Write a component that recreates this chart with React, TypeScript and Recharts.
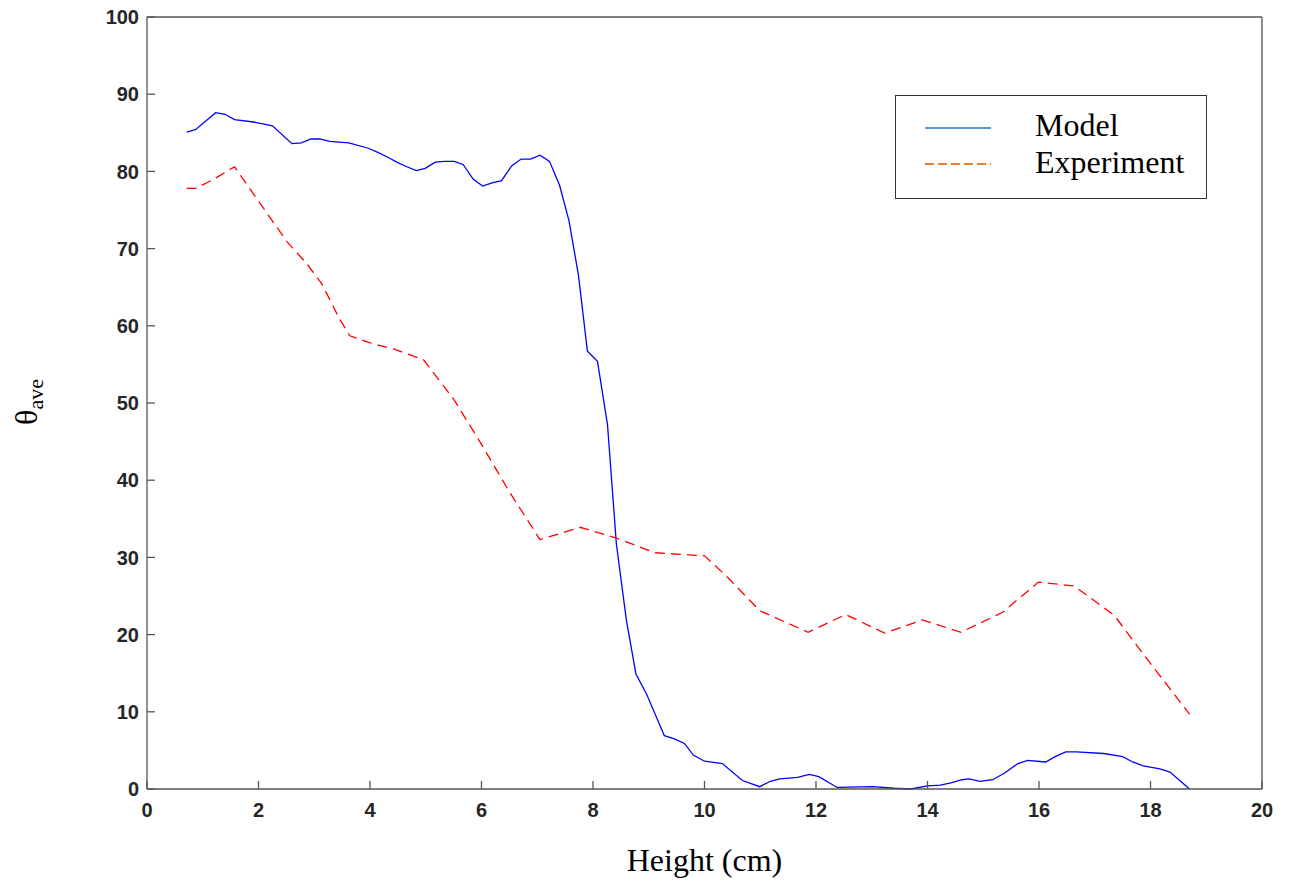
import { LineChart, Line, XAxis, YAxis, Label } from 'recharts';

// model curve (height in cm, theta_ave)
const modelHeight = [
  0.71, 0.87, 1.23, 1.4, 1.57, 1.91, 2.25, 2.6, 2.77, 2.94, 3.1, 3.28, 3.62, 3.97, 4.13, 4.33, 4.48,
  4.66, 4.83, 4.99, 5.17, 5.33, 5.51, 5.67, 5.85, 6.02, 6.19, 6.36, 6.54, 6.71, 6.88, 7.05, 7.22,
  7.4, 7.57, 7.74, 7.9, 8.08, 8.26, 8.42, 8.6, 8.77, 8.96, 9.28, 9.46, 9.64, 9.8, 10.0, 10.32,
  10.68, 10.99, 11.18, 11.35, 11.67, 11.88, 12.05, 12.38, 13.02, 13.4, 13.7, 14.0, 14.23, 14.42,
  14.62, 14.75, 14.94, 15.17, 15.39, 15.62, 15.8, 16.12, 16.29, 16.48, 16.67, 17.16, 17.5, 17.68,
  17.87, 18.17, 18.35, 18.7,
];
const modelTheta = [
  85.1, 85.4, 87.6, 87.4, 86.7, 86.4, 85.9, 83.6, 83.7, 84.2, 84.2, 83.9, 83.7, 83.0, 82.5, 81.8, 81.2,
  80.6, 80.1, 80.4, 81.2, 81.3, 81.3, 80.9, 79.0, 78.1, 78.5, 78.8, 80.7, 81.6, 81.6, 82.1, 81.3,
  78.2, 73.6, 66.5, 56.7, 55.4, 47.2, 31.7, 21.8, 14.9, 12.3, 6.9, 6.5, 5.9, 4.4, 3.6, 3.3,
  1.1, 0.3, 1.0, 1.3, 1.5, 1.9, 1.6, 0.2, 0.3, 0.1, 0.0, 0.4, 0.5, 0.8,
  1.2, 1.3, 1.0, 1.2, 2.1, 3.3, 3.7, 3.5, 4.2, 4.8, 4.8, 4.6, 4.2, 3.5,
  3.0, 2.6, 2.2, 0.0,
];

// experiment curve
const expHeight = [
  0.71, 0.88, 1.2, 1.57, 2.15, 2.51, 2.86, 3.13, 3.46, 3.64, 4.0, 4.42, 4.96, 5.5, 5.97, 6.5, 7.05,
  7.77, 8.42, 9.11, 9.79, 10.0, 10.39, 10.99, 11.86, 12.53, 13.23, 13.91, 14.6, 15.35, 15.99, 16.63,
  17.35, 17.91, 18.7,
];
const expTheta = [
  77.8, 77.8, 79.0, 80.6, 74.6, 70.9, 68.1, 65.5, 60.8, 58.7, 57.8, 57.0, 55.6, 50.5, 45.0, 38.5, 32.3,
  33.9, 32.5, 30.6, 30.3, 30.2, 27.6, 23.1, 20.3, 22.6, 20.2, 21.9, 20.3, 22.9, 26.8, 26.3,
  22.5, 17.1, 9.7,
];

const xTicks = [0, 2, 4, 6, 8, 10, 12, 14, 16, 18, 20];
const yTicks = [0, 10, 20, 30, 40, 50, 60, 70, 80, 90, 100];

const modelData = modelHeight.map((h, i) => ({ h, theta: modelTheta[i] }));
const expData = expHeight.map((h, i) => ({ h, theta: expTheta[i] }));

const axisColor = '#555';
const tickStyle = { fontSize: 20, fontWeight: 700, fill: '#262626', fontFamily: '"Liberation Sans", Arial, sans-serif' };
const serif = '"Liberation Serif", "Times New Roman", serif';

function ThetaLabel() {
  return (
    <text transform="translate(37, 402) rotate(-90)" textAnchor="middle" fontFamily={serif} fill="#000">
      <tspan fontSize={32}>θ</tspan>
      <tspan fontSize={22} dy={6}>ave</tspan>
    </text>
  );
}

export default function App() {
  return (
    <div style={{ position: 'absolute', left: 0, top: 0, width: 1294, height: 886, background: '#fff' }}>
      <LineChart width={1294} height={886} margin={{ top: 0, right: 0, left: 0, bottom: 0 }}>
        <XAxis
          xAxisId="bottom"
          dataKey="h"
          type="number"
          domain={[0, 20]}
          ticks={xTicks}
          height={97}
          stroke={axisColor}
          strokeWidth={1.3}
          tickSize={-8}
          tickMargin={22}
          tick={tickStyle}
        >
          <Label
            value="Height (cm)"
            position="insideBottom"
            offset={15}
            style={{ fontSize: 32, fontFamily: serif, fill: '#000' }}
          />
        </XAxis>
        <XAxis
          xAxisId="top"
          orientation="top"
          dataKey="h"
          type="number"
          domain={[0, 20]}
          ticks={xTicks}
          height={17}
          stroke={axisColor}
          strokeWidth={1.3}
          tickSize={-8}
          tick={false}
        />
        <YAxis
          yAxisId="left"
          type="number"
          domain={[0, 100]}
          ticks={yTicks}
          width={147}
          stroke={axisColor}
          strokeWidth={1.3}
          tickSize={-8}
          tickMargin={16}
          tick={tickStyle}
          label={<ThetaLabel />}
        />
        <YAxis
          yAxisId="right"
          orientation="right"
          type="number"
          domain={[0, 100]}
          ticks={yTicks}
          width={32}
          stroke={axisColor}
          strokeWidth={1.3}
          tickSize={-8}
          tick={false}
        />
        <Line
          xAxisId="bottom"
          yAxisId="left"
          data={modelData}
          dataKey="theta"
          type="linear"
          stroke="#0000ff"
          strokeWidth={1.3}
          dot={false}
          isAnimationActive={false}
        />
        <Line
          xAxisId="top"
          yAxisId="right"
          data={expData}
          dataKey="theta"
          type="linear"
          stroke="#ff0000"
          strokeWidth={1.3}
          strokeDasharray="10 6"
          dot={false}
          isAnimationActive={false}
        />
      </LineChart>

      {/* legend box as in the original figure */}
      <div
        style={{
          position: 'absolute',
          left: 895,
          top: 95,
          width: 310,
          height: 102,
          border: '1.5px solid #333',
          background: '#fff',
          fontFamily: serif,
          fontSize: 32,
          color: '#000',
        }}
      >
        <svg width={80} height={100} style={{ position: 'absolute', left: 25, top: 0 }}>
          <line x1={4} x2={70} y1={32} y2={32} stroke="#5b9bd5" strokeWidth={2} />
          <line x1={4} x2={70} y1={68} y2={68} stroke="#ed7d31" strokeWidth={2} strokeDasharray="9 4" />
        </svg>
        <div style={{ position: 'absolute', left: 139, top: 10, lineHeight: '38px' }}>Model</div>
        <div style={{ position: 'absolute', left: 139, top: 47, lineHeight: '38px' }}>Experiment</div>
      </div>
    </div>
  );
}
